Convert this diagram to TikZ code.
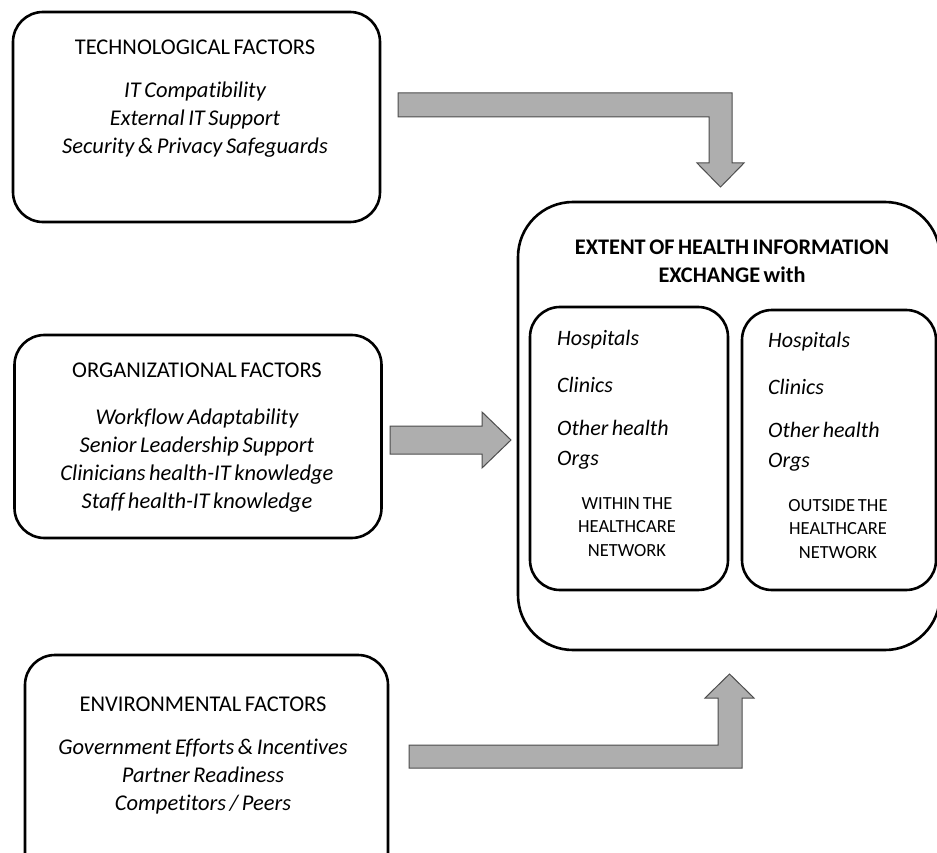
\documentclass[tikz,border=0pt]{standalone}
\usepackage{fontspec}
\setmainfont{Carlito}[Ligatures=NoCommon, WordSpace=0.7]
\definecolor{arrowgray}{HTML}{AEAEAE}
\definecolor{arrowline}{HTML}{4D4D4D}
\begin{document}
\begin{tikzpicture}[x=1pt, y=-1pt,
        factorbox/.style={draw, line width=2.6pt, rounded corners=30pt, inner sep=0pt},
        heading/.style={font=\fontsize{22.5}{28}\selectfont, inner sep=0pt},
        itemlist/.style={font=\fontsize{22.5}{28}\selectfont\itshape, align=center, inner sep=0pt},
        orgitem/.style={font=\fontsize{22}{30}\selectfont\itshape, align=left, anchor=west, inner sep=0pt},
        netlabel/.style={font=\fontsize{18.5}{23.5}\selectfont, align=center, inner sep=0pt},
        blockarrow/.style={fill=arrowgray, draw=arrowline, line width=1pt, line join=miter}]
    \useasboundingbox (0,0) rectangle (937,853);
    \clip (0,0) rectangle (937,853);
    \node[factorbox, minimum width=367pt, minimum height=210pt] (tech) at (196.5,117) {};
    \node[factorbox, minimum width=367pt, minimum height=203pt] (org)  at (198,436.5) {};
    \node[factorbox, minimum width=363pt, minimum height=230pt] (env)  at (206.5,770) {};
    \node[heading]  (techtitle) at (195,47)  {TECHNOLOGICAL FACTORS};
    \node[itemlist] (techlist)  at (195,120) {IT Compatibility\\External IT Support\\Security \&  Privacy Safeguards};
    \node[heading]  (orgtitle)  at (197,370) {ORGANIZATIONAL FACTORS};
    \node[itemlist] (orglist)   at (197,461) {Workflow Adaptability\\Senior Leadership Support\\Clinicians health-IT knowledge\\Staff health-IT knowledge};
    \node[heading]  (envtitle)  at (203,704) {ENVIRONMENTAL FACTORS};
    \node[itemlist] (envlist)   at (203,777) {Government Efforts \& Incentives\\Partner Readiness\\Competitors / Peers};
    \node[factorbox, rounded corners=55pt, minimum width=422pt, minimum height=448pt] (hie) at (729,426) {};
    \node[heading, font=\fontsize{22.3}{28}\selectfont\bfseries, align=center] (hietitle) at (732,261) {EXTENT OF HEALTH INFORMATION\\EXCHANGE with};
    \node[factorbox, minimum width=198pt, minimum height=283pt] (within)  at (629,448.5) {};
    \node[factorbox, minimum width=194pt, minimum height=280pt] (outside) at (839,450) {};
    \node[orgitem] (inhosp)   at (557,340) {Hospitals};
    \node[orgitem] (inclin)   at (557,385) {Clinics};
    \node[orgitem] (inother)  at (557,445) {Other health\\Orgs};
    \node[netlabel] (inlabel) at (627,527) {WITHIN THE\\HEALTHCARE\\NETWORK};
    \node[orgitem] (outhosp)  at (768,342) {Hospitals};
    \node[orgitem] (outclin)  at (768,387) {Clinics};
    \node[orgitem] (outother) at (768,447) {Other health\\Orgs};
    \node[netlabel] (outlabel) at (838,529) {OUTSIDE THE\\HEALTHCARE\\NETWORK};
    \draw[blockarrow] (398,93) -- (732,93) -- (732,163) -- (744,163) -- (720.5,187)
        -- (697,163) -- (709,163) -- (709,117) -- (398,117) -- cycle;
    \draw[blockarrow] (390,426) -- (482,426) -- (482,412) -- (511,440) -- (482,468)
        -- (482,454) -- (390,454) -- cycle;
    \draw[blockarrow] (409,745) -- (718,745) -- (718,698) -- (705,698) -- (729.5,674)
        -- (754,698) -- (742,698) -- (742,768) -- (409,768) -- cycle;
\end{tikzpicture}
\end{document}
